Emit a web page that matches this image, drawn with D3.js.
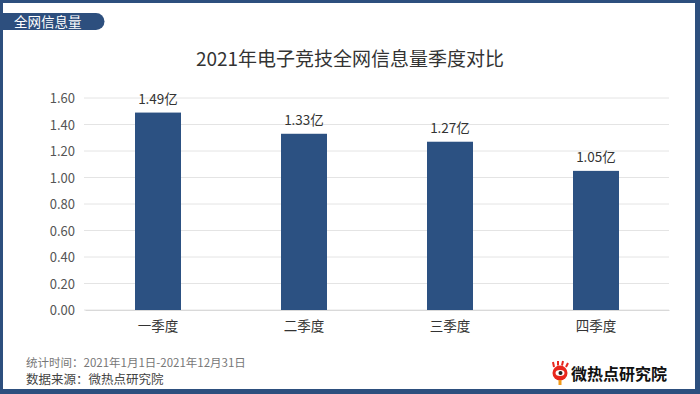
<!doctype html>
<html>
<head>
<meta charset="utf-8">
<script src="https://d3js.org/d3.v7.min.js"></script>
<style>
  body { margin: 0; background: #fff; }
  svg { display: block; font-family: "Noto Sans CJK SC", "Noto Sans", sans-serif; }
</style>
</head>
<body>
<svg id="chart" width="700" height="394"></svg>
<script>
// data
var quarters = ["一季度", "二季度", "三季度", "四季度"];
var volumes = [1.49, 1.33, 1.27, 1.05];
var yTicks = [0, 0.2, 0.4, 0.6, 0.8, 1.0, 1.2, 1.4, 1.6];

var svg = d3.select("#chart");
var navy = "#2d4f7e";

// frame
svg.append("rect").attr("x", 0).attr("y", 0).attr("width", 700).attr("height", 394).attr("fill", navy);
svg.append("rect").attr("x", 3).attr("y", 3).attr("width", 692).attr("height", 386).attr("fill", "#fff");

// tab top-left
svg.append("path")
    .attr("d", "M0,13 H96 A8.5,8.5 0 0 1 96,30 H0 Z")
    .attr("fill", navy);
svg.append("text").attr("x", 14).attr("y", 26.5)
    .attr("fill", "#fff").attr("font-size", 13.5).text("全网信息量");

// title
svg.append("text").attr("x", 350).attr("y", 66).attr("text-anchor", "middle")
    .attr("fill", "#333").attr("font-size", 19).text("2021年电子竞技全网信息量季度对比");

var x = d3.scaleBand().domain(quarters).range([85, 669]).paddingInner(0.685).paddingOuter(0.3425);
var y = d3.scaleLinear().domain([0, 1.6]).range([310, 98]);

// grid
svg.append("g").selectAll("line").data(yTicks).enter().append("line")
    .attr("x1", 84).attr("x2", 669)
    .attr("y1", d => y(d)).attr("y2", d => y(d))
    .attr("stroke", "#e4e4e4").attr("stroke-width", 1);

var yAxis = d3.axisLeft(y).tickValues(yTicks).tickFormat(d3.format(".2f")).tickSize(0).tickPadding(0);
var yg = svg.append("g").attr("transform", "translate(75,0)").call(yAxis);
yg.select(".domain").remove();
yg.selectAll("text").attr("fill", "#555").attr("font-size", 13).attr("dy", "0.35em")
    .style("font-family", "'Noto Sans CJK SC', sans-serif");

// bars
svg.append("g").selectAll("rect").data(volumes).enter().append("rect")
    .attr("x", (d, i) => x(quarters[i]))
    .attr("width", x.bandwidth())
    .attr("y", d => y(d))
    .attr("height", d => y(0) - y(d))
    .attr("fill", "#2c5182");

svg.append("g").selectAll("text").data(volumes).enter().append("text")
    .attr("x", (d, i) => x(quarters[i]) + x.bandwidth() / 2)
    .attr("y", d => y(d) - 9)
    .attr("text-anchor", "middle").attr("fill", "#333").attr("font-size", 13.5)
    .text(d => d.toFixed(2) + "亿");

var xAxis = d3.axisBottom(x).tickSize(0).tickPadding(0);
var xg = svg.append("g").attr("transform", "translate(0,310)").call(xAxis);
xg.select(".domain").attr("stroke", "#d9d9d9");
xg.selectAll("text").attr("fill", "#333").attr("font-size", 13.5).attr("dy", "1.55em")
    .style("font-family", "'Noto Sans CJK SC', sans-serif");

// footer
svg.append("text").attr("x", 26).attr("y", 367).attr("fill", "#777").attr("font-size", 11.5)
    .text("统计时间：2021年1月1日-2021年12月31日");
svg.append("text").attr("x", 26).attr("y", 384).attr("fill", "#444").attr("font-size", 12.5)
    .text("数据来源：微热点研究院");

// logo
var logo = svg.append("g").attr("transform", "translate(560,373)");
logo.append("circle").attr("cx", 0).attr("cy", 0).attr("r", 7.5).attr("fill", "#e8261c");
logo.append("ellipse").attr("cx", 0).attr("cy", 0).attr("rx", 4.5).attr("ry", 3).attr("fill", "#fff");
logo.append("circle").attr("cx", 0.5).attr("cy", 0).attr("r", 2).attr("fill", "#222");
logo.append("rect").attr("x", -1.5).attr("y", 7).attr("width", 3).attr("height", 5).attr("fill", "#f29a18");
logo.append("path").attr("d", "M-6,-6 L-7,-11 M-2,-7.5 L-2,-12 M2,-7.5 L3,-12 M6,-6 L8,-10")
    .attr("stroke", "#e8261c").attr("stroke-width", 2);
svg.append("text").attr("x", 571).attr("y", 380).attr("fill", "#111").attr("font-size", 16)
    .attr("font-weight", "bold").text("微热点研究院");
</script>
</body>
</html>
